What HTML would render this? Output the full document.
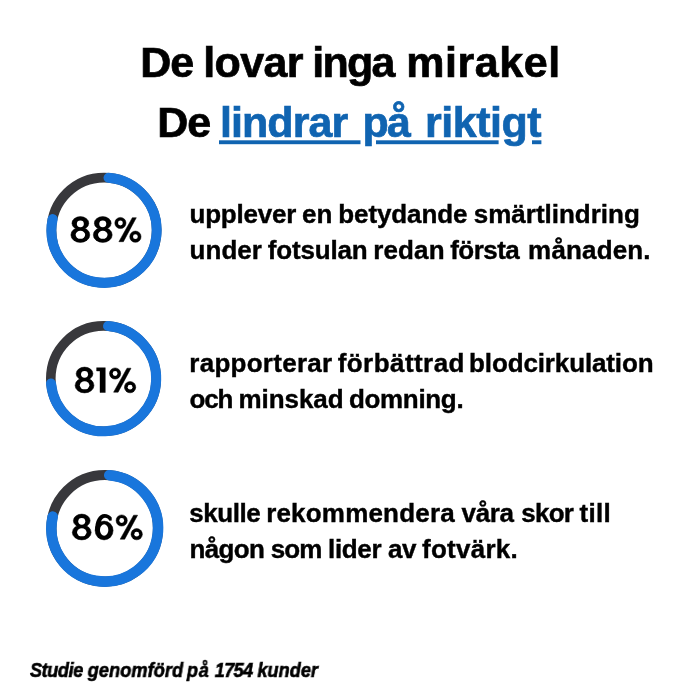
<!DOCTYPE html>
<html><head><meta charset="utf-8">
<style>
html,body{margin:0;padding:0;background:#fff;}
body{width:700px;height:700px;position:relative;overflow:hidden;font-family:"Liberation Sans",sans-serif;color:#000;}
.t{will-change:transform;position:absolute;white-space:nowrap;line-height:1;margin:0;padding:0;transform-origin:0 0;}
.h{font-weight:bold;font-size:43px;-webkit-text-stroke:0.7px currentColor;}
.b{font-weight:bold;font-size:26px;-webkit-text-stroke:0.4px currentColor;}
.f{font-weight:bold;font-style:italic;font-size:19.5px;-webkit-text-stroke:0.6px currentColor;}
.blue{color:#1064b1;}
svg{position:absolute;left:0;top:0;}
</style></head><body>
<svg width="700" height="700" viewBox="0 0 700 700">
<circle cx="104.05" cy="230.2" r="52.6" fill="none" stroke="#38383c" stroke-width="9.6"/>
<path d="M108.54 177.79 A52.6 52.6 0 1 1 52.64 219.08" fill="none" stroke="#1976dc" stroke-width="10" stroke-linecap="round"/>
<circle cx="103.5" cy="378.6" r="52.7" fill="none" stroke="#38383c" stroke-width="9.6"/>
<path d="M108.00 326.09 A52.7 52.7 0 1 1 51.03 383.56" fill="none" stroke="#1976dc" stroke-width="10" stroke-linecap="round"/>
<circle cx="104.7" cy="528.3" r="53.3" fill="none" stroke="#38383c" stroke-width="10.1"/>
<path d="M109.25 475.19 A53.3 53.3 0 1 1 52.68 516.67" fill="none" stroke="#1976dc" stroke-width="10.6" stroke-linecap="round"/>
<g transform="translate(70.9 242.0)"><g stroke="#000" stroke-width="0.5"><ellipse cx="9.45" cy="-18.8" rx="8.4" ry="6.6"/><ellipse cx="9.45" cy="-7.1" rx="9.45" ry="7.5"/><ellipse cx="9.45" cy="-18.2" rx="3.5" ry="3.35" fill="#fff" stroke="none"/><ellipse cx="9.5" cy="-7.15" rx="4.75" ry="4.0" fill="#fff" stroke="none"/></g></g>
<g transform="translate(93.3 242.0)"><g stroke="#000" stroke-width="0.5"><ellipse cx="9.45" cy="-18.8" rx="8.4" ry="6.6"/><ellipse cx="9.45" cy="-7.1" rx="9.45" ry="7.5"/><ellipse cx="9.45" cy="-18.2" rx="3.5" ry="3.35" fill="#fff" stroke="none"/><ellipse cx="9.5" cy="-7.15" rx="4.75" ry="4.0" fill="#fff" stroke="none"/></g></g>
<g transform="translate(114.9 242.0)"><g stroke="#000" stroke-width="0.5"><circle cx="5.5" cy="-19" r="5.6"/><circle cx="5.5" cy="-19" r="2.4" fill="#fff" stroke="none"/><circle cx="20.5" cy="-5.3" r="5.65"/><circle cx="20.5" cy="-5.3" r="2.4" fill="#fff" stroke="none"/><path d="M17.4 -24.3H21.4L8.5 -0.3H4Z"/></g></g>
<g transform="translate(75.1 392.5)"><g stroke="#000" stroke-width="0.5"><ellipse cx="9.45" cy="-18.8" rx="8.4" ry="6.6"/><ellipse cx="9.45" cy="-7.1" rx="9.45" ry="7.5"/><ellipse cx="9.45" cy="-18.2" rx="3.5" ry="3.35" fill="#fff" stroke="none"/><ellipse cx="9.5" cy="-7.15" rx="4.75" ry="4.0" fill="#fff" stroke="none"/></g></g>
<g transform="translate(96.6 392.5)"><g stroke="#000" stroke-width="0.4"><path d="M0 -24.8H8.7V0H3.4V-21.5H0Z"/></g></g>
<g transform="translate(109.6 392.5)"><g stroke="#000" stroke-width="0.5"><circle cx="5.5" cy="-19" r="5.6"/><circle cx="5.5" cy="-19" r="2.4" fill="#fff" stroke="none"/><circle cx="20.5" cy="-5.3" r="5.65"/><circle cx="20.5" cy="-5.3" r="2.4" fill="#fff" stroke="none"/><path d="M17.4 -24.3H21.4L8.5 -0.3H4Z"/></g></g>
<g transform="translate(72.3 539.5)"><g stroke="#000" stroke-width="0.5"><ellipse cx="9.45" cy="-18.8" rx="8.4" ry="6.6"/><ellipse cx="9.45" cy="-7.1" rx="9.45" ry="7.5"/><ellipse cx="9.45" cy="-18.2" rx="3.5" ry="3.35" fill="#fff" stroke="none"/><ellipse cx="9.5" cy="-7.15" rx="4.75" ry="4.0" fill="#fff" stroke="none"/></g></g>
<g transform="translate(95.1 539.5)"><g stroke="#000" stroke-width="0.5"><ellipse cx="9" cy="-9" rx="9" ry="9.4"/><ellipse cx="9.05" cy="-9.5" rx="4.2" ry="5.65" fill="#fff" stroke="none"/><path d="M16.6 -22C14.8 -24.2 12.3 -25.4 9.5 -25.4C3.5 -25.4 0 -18.5 0 -9L4.6 -9C4.6 -16.5 6.6 -21.7 10 -21.7C11.9 -21.7 13.3 -20.6 14.3 -18.7L16.6 -18.9Z" stroke="none"/></g></g>
<g transform="translate(116.2 539.5)"><g stroke="#000" stroke-width="0.5"><circle cx="5.5" cy="-19" r="5.6"/><circle cx="5.5" cy="-19" r="2.4" fill="#fff" stroke="none"/><circle cx="20.5" cy="-5.3" r="5.65"/><circle cx="20.5" cy="-5.3" r="2.4" fill="#fff" stroke="none"/><path d="M17.4 -24.3H21.4L8.5 -0.3H4Z"/></g></g>
<rect x="219.0" y="140.3" width="141.5" height="3.9" fill="#1064b1"/>
<rect x="376.0" y="140.3" width="122.6" height="3.9" fill="#1064b1"/>
<rect x="532.0" y="140.3" width="9.4" height="3.9" fill="#1064b1"/>
</svg>
<div class="t h" id="h1_0" style="left:140px;top:41px;letter-spacing:-1.24px;transform:translateX(0.36px);">De</div>
<div class="t h" id="h1_1" style="left:203px;top:41px;letter-spacing:-0.58px;transform:translateX(0.14px);">lovar</div>
<div class="t h" id="h1_2" style="left:312px;top:41px;letter-spacing:-1.80px;transform:translateX(0.36px);">inga</div>
<div class="t h" id="h1_3" style="left:406px;top:41px;letter-spacing:0.55px;transform:translateX(0.26px);">mirakel</div>
<div class="t h" id="h2_0" style="left:157px;top:101px;letter-spacing:-1.24px;transform:translateX(0.36px);">De</div>
<div class="t h blue" id="h2_1" style="left:219px;top:101px;letter-spacing:-0.91px;transform:translateX(0.90px);">lindrar</div>
<div class="t h blue" id="h2_2" style="left:362px;top:101px;letter-spacing:-1.80px;transform:translateX(0.51px);">på</div>
<div class="t h blue" id="h2_3" style="left:424px;top:101px;letter-spacing:-0.46px;transform:translateX(0.92px);">riktigt</div>
<div class="t b" id="b1a_0" style="left:189px;top:201px;letter-spacing:-0.23px;transform:translateX(0.56px);">upplever</div>
<div class="t b" id="b1a_1" style="left:302px;top:201px;letter-spacing:-0.06px;transform:translateX(0.01px);">en</div>
<div class="t b" id="b1a_2" style="left:338px;top:201px;letter-spacing:-0.11px;transform:translateX(0.27px);">betydande</div>
<div class="t b" id="b1a_3" style="left:473px;top:201px;letter-spacing:-0.00px;transform:translateX(0.72px);">smärtlindring</div>
<div class="t b" id="b1b_0" style="left:189px;top:237px;letter-spacing:0.04px;transform:translateX(0.56px);">under</div>
<div class="t b" id="b1b_1" style="left:267px;top:237px;letter-spacing:-0.16px;transform:translateX(0.68px);">fotsulan</div>
<div class="t b" id="b1b_2" style="left:373px;top:237px;letter-spacing:0.15px;transform:translateX(0.15px);">redan</div>
<div class="t b" id="b1b_3" style="left:450px;top:237px;letter-spacing:-0.55px;transform:translateX(0.21px);">första</div>
<div class="t b" id="b1b_4" style="left:528px;top:237px;letter-spacing:0.15px;transform:translateX(0.12px);">månaden.</div>
<div class="t b" id="b2a_0" style="left:189px;top:350px;letter-spacing:0.27px;transform:translateX(0.26px);">rapporterar</div>
<div class="t b" id="b2a_1" style="left:337px;top:350px;letter-spacing:0.45px;transform:translateX(0.63px);">förbättrad</div>
<div class="t b" id="b2a_2" style="left:469px;top:350px;letter-spacing:-0.13px;transform:translateX(0.05px);">blodcirkulation</div>
<div class="t b" id="b2b_0" style="left:189px;top:386px;letter-spacing:-1.20px;transform:translateX(0.61px);">och</div>
<div class="t b" id="b2b_1" style="left:238px;top:386px;letter-spacing:-0.07px;transform:translateX(0.56px);">minskad</div>
<div class="t b" id="b2b_2" style="left:348px;top:386px;letter-spacing:-0.32px;transform:translateX(0.90px);">domning.</div>
<div class="t b" id="b3a_0" style="left:189px;top:500px;letter-spacing:-0.45px;transform:translateX(0.20px);">skulle</div>
<div class="t b" id="b3a_1" style="left:266px;top:500px;letter-spacing:0.19px;transform:translateX(0.15px);">rekommendera</div>
<div class="t b" id="b3a_2" style="left:461px;top:500px;letter-spacing:-0.36px;transform:translateX(0.58px);">våra</div>
<div class="t b" id="b3a_3" style="left:521px;top:500px;letter-spacing:-0.71px;transform:translateX(0.20px);">skor</div>
<div class="t b" id="b3a_4" style="left:579px;top:500px;letter-spacing:0.28px;transform:translateX(0.49px);">till</div>
<div class="t b" id="b3b_0" style="left:189px;top:536px;letter-spacing:-0.64px;transform:translateX(0.56px);">någon</div>
<div class="t b" id="b3b_1" style="left:270px;top:536px;letter-spacing:-0.92px;transform:translateX(0.72px);">som</div>
<div class="t b" id="b3b_2" style="left:328px;top:536px;letter-spacing:-0.35px;transform:translateX(0.01px);">lider</div>
<div class="t b" id="b3b_3" style="left:387px;top:536px;letter-spacing:-0.40px;transform:translateX(0.89px);">av</div>
<div class="t b" id="b3b_4" style="left:421px;top:536px;letter-spacing:0.27px;transform:translateX(0.96px);">fotvärk.</div>
<div class="t f" id="ft_0" style="left:29px;top:661px;letter-spacing:-0.44px;transform:translateX(0.96px) scaleX(0.93);">Studie</div>
<div class="t f" id="ft_1" style="left:87px;top:661px;letter-spacing:0.11px;transform:translateX(0.68px) scaleX(0.93);">genomförd</div>
<div class="t f" id="ft_2" style="left:186px;top:661px;letter-spacing:0.76px;transform:translateX(0.87px) scaleX(0.93);">på</div>
<div class="t f" id="ft_3" style="left:214px;top:661px;letter-spacing:-0.71px;transform:translateX(0.71px) scaleX(0.93);">1754</div>
<div class="t f" id="ft_4" style="left:257px;top:661px;letter-spacing:0.02px;transform:translateX(0.42px) scaleX(0.93);">kunder</div>
</body></html>
